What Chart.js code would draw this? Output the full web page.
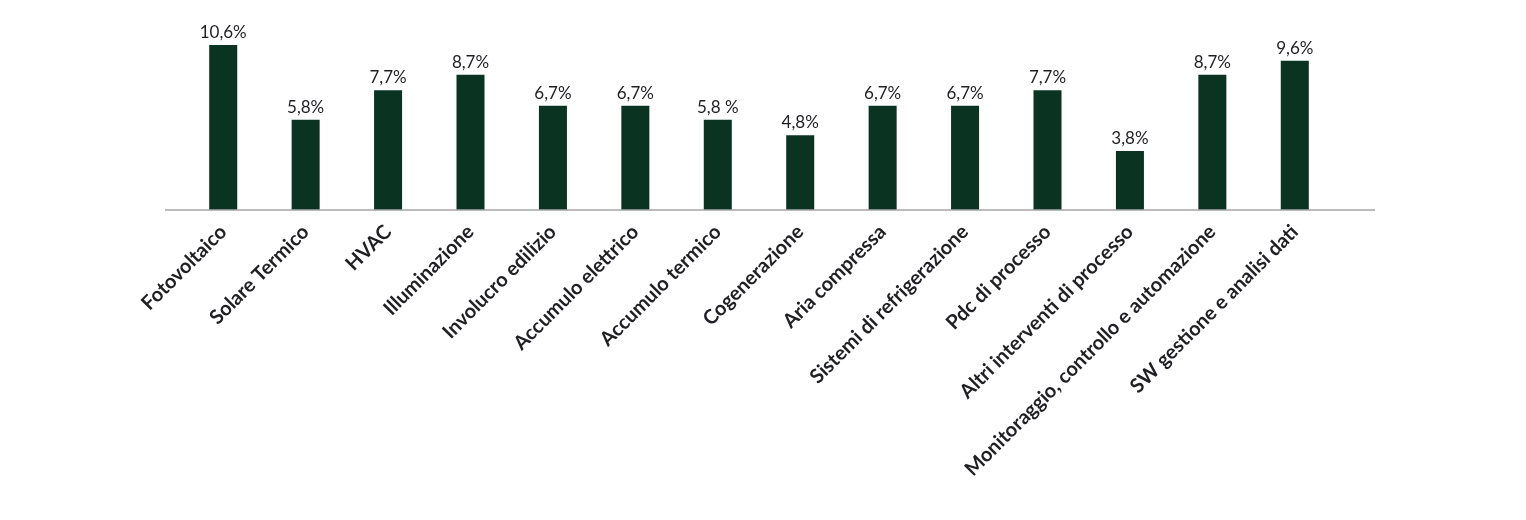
<!DOCTYPE html>
<html>
<head>
<meta charset="utf-8">
<script src="https://cdn.jsdelivr.net/npm/chart.js@4"></script>
<style>
  html,body{margin:0;padding:0;background:#fff;}
  #wrap{width:1526px;height:520px;position:relative;}
</style>
</head>
<body>
<div id="wrap"><canvas id="c" width="1526" height="520"></canvas></div>
<script>
const categories=['Fotovoltaico','Solare Termico','HVAC','Illuminazione','Involucro edilizio','Accumulo elettrico','Accumulo termico','Cogenerazione','Aria compressa','Sistemi di refrigerazione','Pdc di processo','Altri interventi di processo','Monitoraggio, controllo e automazione','SW gestione e analisi dati'];
const values=[10.6,5.8,7.7,8.7,6.7,6.7,5.8,4.8,6.7,6.7,7.7,3.8,8.7,9.6];
const valueLabels=['10,6%','5,8%','7,7%','8,7%','6,7%','6,7%','5,8 %','4,8%','6,7%','6,7%','7,7%','3,8%','8,7%','9,6%'];

const BAR='#0b3322';
const TEXT='#1f1f24';

// value labels above bars + baseline that runs past the bars
const extras={
  id:'extras',
  afterDatasetsDraw(chart){
    const ctx=chart.ctx;
    const meta=chart.getDatasetMeta(0);
    ctx.save();
    ctx.fillStyle=TEXT;
    ctx.font='17px Lato';
    ctx.textAlign='center';
    ctx.textBaseline='bottom';
    meta.data.forEach((bar,i)=>{ ctx.fillText(valueLabels[i],bar.x,bar.y-4); });
    const y=chart.scales.y.getPixelForValue(0);
    ctx.strokeStyle='#a6a6a6';
    ctx.lineWidth=1.5;
    ctx.beginPath();
    ctx.moveTo(chart.chartArea.left-17,y);
    ctx.lineTo(chart.chartArea.right+39,y);
    ctx.stroke();
    ctx.restore();
  }
};

const chart=new Chart(document.getElementById('c'),{
  type:'bar',
  data:{labels:categories,datasets:[{data:values,backgroundColor:BAR,borderWidth:0,barPercentage:0.34,categoryPercentage:1}]},
  options:{
    responsive:false,animation:false,
    layout:{padding:{left:182,right:190,top:0,bottom:0}},
    plugins:{legend:{display:false},tooltip:{enabled:false}},
    scales:{
      x:{
        grid:{display:false},
        border:{display:false},
        afterFit(scale){ scale.height=310; },
        ticks:{color:TEXT,font:{family:'Lato',size:20,weight:'bold'},minRotation:45,maxRotation:45,autoSkip:false,padding:2}
      },
      y:{display:false,min:0,max:13.5}
    }
  },
  plugins:[extras]
});
</script>
</body>
</html>
